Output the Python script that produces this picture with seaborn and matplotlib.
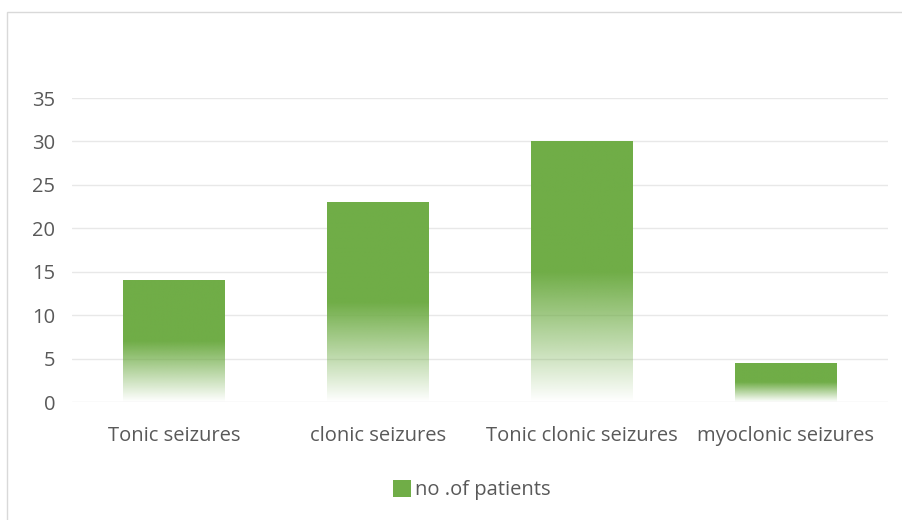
import numpy as np
import pandas as pd
import matplotlib
matplotlib.use("Agg")
import matplotlib.pyplot as plt
import seaborn as sns
from matplotlib.patches import Rectangle, Patch

categories = ["Tonic seizures", "clonic seizures", "Tonic clonic seizures", "myoclonic seizures"]
patients = [14, 23, 30, 4.5]
y_ticks = [0, 5, 10, 15, 20, 25, 30, 35]
series_name = "no .of patients"

GREEN = "#70AD47"
TEXT = "#595959"
GRID = "#E8E8E8"

sns.set_theme(style="white")
plt.rcParams['font.family'] = ['Open Sans', 'DejaVu Sans']

df = pd.DataFrame({"category": categories, "value": patients})

fig = plt.figure(figsize=(9.03, 5.2), dpi=100)
ax = fig.add_axes([72/903, 1-402/520, (888-72)/903, (402-98)/520])

sns.barplot(data=df, x="category", y="value", color=GREEN, width=0.5,
            saturation=1, ax=ax, zorder=3)

# gradient fill: solid top half, fading to transparent at bottom
rgb = matplotlib.colors.to_rgb(GREEN)
n = 256
alpha = np.ones(n)
half = n // 2
alpha[half:] = np.linspace(1.0, 0.0, n - half)
grad = np.zeros((n, 1, 4))
grad[:, 0, :3] = rgb
grad[:, 0, 3] = alpha
for p in ax.patches:
    x0, y0 = p.get_x(), p.get_y()
    w, h = p.get_width(), p.get_height()
    p.set_facecolor((0, 0, 0, 0))
    p.set_edgecolor((0, 0, 0, 0))
    im = ax.imshow(grad, extent=[x0, x0 + w, y0, y0 + h], aspect='auto',
                   origin='upper', zorder=3, interpolation='bilinear')
    im.set_clip_path(p)

ax.set_xlim(-0.5, 3.5)
ax.set_ylim(0, 35)
ax.set_yticks(y_ticks)
ax.grid(axis='y', color=GRID, linewidth=1, zorder=0)
ax.set_axisbelow(True)
for s in ax.spines.values():
    s.set_visible(False)
ax.set_xlabel("")
ax.set_ylabel("")
FS = 14.5
ax.tick_params(axis='y', length=0, pad=12, labelsize=FS, labelcolor=TEXT)
ax.tick_params(axis='x', length=0, pad=17, labelsize=FS, labelcolor=TEXT)

handle = Patch(facecolor=GREEN, edgecolor='none')
fig.legend([handle], [series_name], loc='center', bbox_to_anchor=(472/903, 1-490/520),
           frameon=False, fontsize=FS, labelcolor=TEXT, handlelength=0.9,
           handleheight=0.9, handletextpad=0.2)

fig.patches.append(Rectangle((7/903, -0.1), 1.0, 1 - 12/520 + 0.1,
                             transform=fig.transFigure, fill=False,
                             edgecolor="#D9D9D9", linewidth=1))

fig.savefig("out.png", dpi=100, facecolor="white")
